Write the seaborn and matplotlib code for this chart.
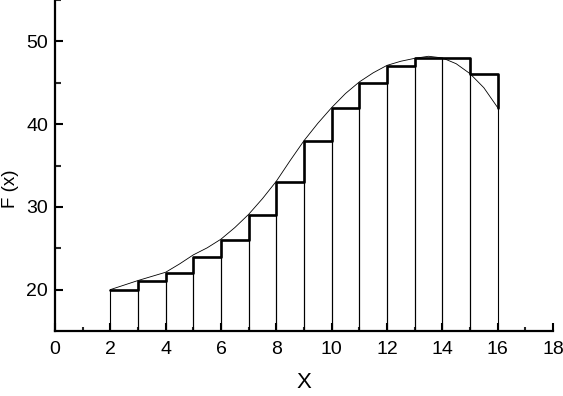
import numpy as np
import pandas as pd
import matplotlib
matplotlib.use("Agg")
import matplotlib.pyplot as plt
import seaborn as sns

# ---- data ----
step_x = [2, 3, 4, 5, 6, 7, 8, 9, 10, 11, 12, 13, 14, 15, 16]
step_y = [20, 21, 22, 24, 26, 29, 33, 38, 42, 45, 47, 48, 48, 46, 42]
bar_left = [2, 3, 4, 5, 6, 7, 8, 9, 10, 11, 12, 13, 14, 15]
bar_height = [20, 21, 22, 24, 26, 29, 33, 38, 42, 45, 47, 48, 48, 46]
curve_x = [2, 2.5, 3, 3.5, 4, 4.5, 5, 5.5, 6, 6.5, 7, 7.5, 8, 8.5, 9, 9.5,
           10, 10.5, 11, 11.5, 12, 12.5, 13, 13.5, 14, 14.5, 15, 15.5, 16]
curve_y = [20, 20.55, 21.1, 21.6, 22.1, 23.1, 24.2, 25.05, 26.1, 27.5, 29.1,
           31.0, 33.1, 35.6, 38.0, 40.1, 42.0, 43.7, 45.1, 46.2, 47.1, 47.6,
           47.95, 48.2, 48.0, 47.3, 46.1, 44.4, 42.0]
x_ticks = [0, 2, 4, 6, 8, 10, 12, 14, 16, 18]
y_ticks = [20, 30, 40, 50]
x_label = "X"
y_label = "F (x)"

sns.set_theme(style="white")
plt.rcParams["font.family"] = ["Liberation Sans", "DejaVu Sans"]

fig = plt.figure(figsize=(5.63, 3.96), dpi=100)
ax = fig.add_axes([55 / 563, 1 - 331 / 396, (553 - 55) / 563, 331 / 396])

df_bars = pd.DataFrame({"center": [b + 0.5 for b in bar_left], "h": bar_height})
sns.barplot(data=df_bars, x="center", y="h", native_scale=True, width=1,
            fill=False, color="black", edgecolor="black", linewidth=0.8,
            errorbar=None, ax=ax)

df_step = pd.DataFrame({"x": step_x, "y": step_y})
sns.lineplot(data=df_step, x="x", y="y", drawstyle="steps-post", color="black",
             linewidth=1.9, estimator=None, ax=ax)

df_curve = pd.DataFrame({"x": curve_x, "y": curve_y})
sns.lineplot(data=df_curve, x="x", y="y", color="black", linewidth=0.6,
             estimator=None, ax=ax)

ax.set_xlim(0, 18)
ax.set_ylim(15, 55)
ax.set_xticks(x_ticks)
ax.set_xticklabels([str(t) for t in x_ticks])
ax.set_yticks(y_ticks)
ax.set_yticklabels([str(t) for t in y_ticks])
ax.set_xticks(np.arange(1, 18, 2), minor=True)
ax.set_yticks([25, 35, 45, 55], minor=True)
ax.tick_params(axis="both", which="major", direction="in", length=5.5, width=1.5,
               labelsize=14, colors="black")
ax.tick_params(axis="x", which="major", pad=7)
ax.tick_params(axis="y", which="major", pad=5)
ax.tick_params(axis="both", which="minor", direction="in", length=3, width=1.5)
ax.tick_params(axis="y", which="minor", length=4)
ax.tick_params(bottom=True, left=True, which="both")

for s in ["top", "right"]:
    ax.spines[s].set_visible(False)
for s in ["left", "bottom"]:
    ax.spines[s].set_linewidth(1.6)
    ax.spines[s].set_color("black")

ax.set_xlabel(x_label, fontsize=16, color="black")
ax.set_ylabel(y_label, fontsize=13.5, color="black")
ax.xaxis.set_label_coords(0.5, -0.125)
ax.yaxis.set_label_coords(-0.073, 0.43)

fig.savefig("out.png", dpi=100)
